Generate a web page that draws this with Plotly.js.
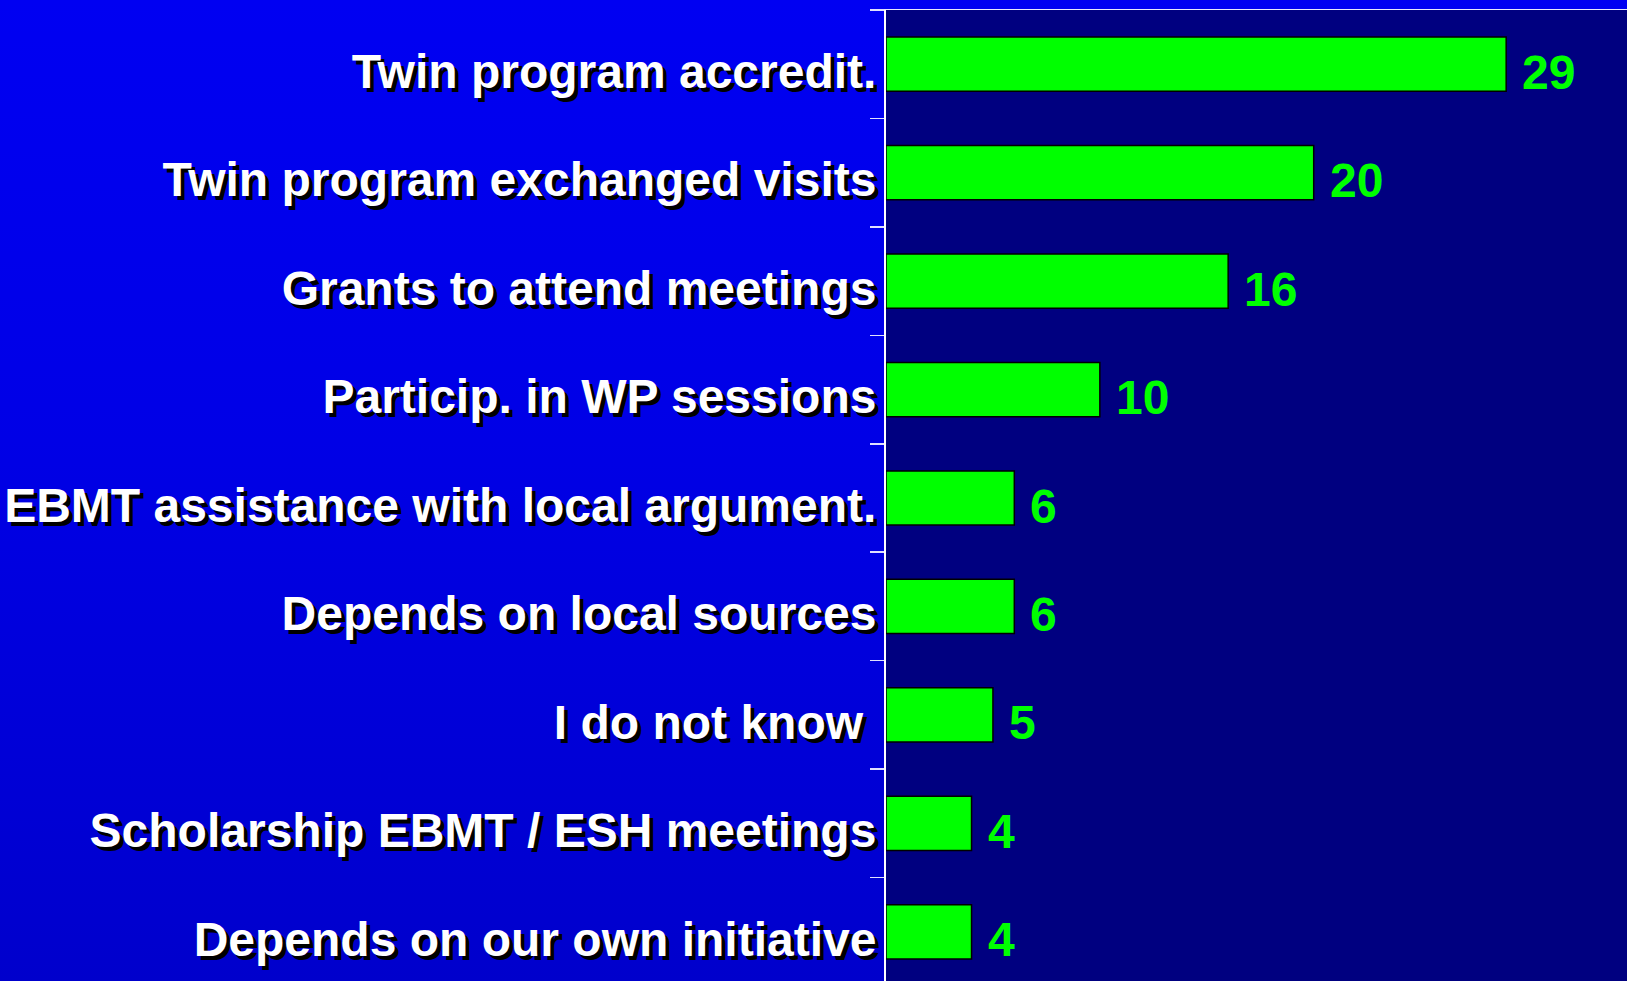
<!DOCTYPE html>
<html>
<head>
<meta charset="utf-8">
<script src="https://cdn.plot.ly/plotly-3.0.1.min.js"></script>
<style>
  html, body { margin: 0; padding: 0; overflow: hidden; width: 1627px; height: 981px;
    background: linear-gradient(to bottom, #0000F2 0%, #0000E6 45%, #0000CC 100%); }
  #chart { width: 1627px; height: 986px; }
</style>
</head>
<body>
<div id="chart"></div>
<script>
const categories = [
  "Twin program accredit.",
  "Twin program exchanged visits",
  "Grants to attend meetings",
  "Particip. in WP sessions",
  "EBMT assistance with local argument.",
  "Depends on local sources",
  "I do not know\u00A0",
  "Scholarship EBMT / ESH meetings",
  "Depends on our own initiative"
];
const values = [29, 20, 16, 10, 6, 6, 5, 4, 4];
const valueLabels = values.map(v => String(v));

const font = "Arial, 'Liberation Sans', sans-serif";

const trace = {
  type: "bar",
  orientation: "h",
  x: values,
  y: categories,
  marker: { color: "#00FF00", line: { color: "#000000", width: 1.5 } },
  hoverinfo: "none"
};

const annotations = values.map((v, i) => ({
  x: v, y: categories[i], xref: "x", yref: "y",
  text: valueLabels[i], showarrow: false,
  xanchor: "left", yanchor: "middle",
  xshift: 14, yshift: -8,
  font: { family: font, size: 48, color: "#00FF00", weight: "bold" }
}));

const layout = {
  width: 1627, height: 986,
  margin: { l: 886, r: 0, t: 10, b: 0, pad: 0 },
  paper_bgcolor: "rgba(0,0,0,0)",
  plot_bgcolor: "#000080",
  bargap: 0.5,
  showlegend: false,
  xaxis: {
    range: [0, 34.65], side: "top",
    showgrid: false, zeroline: false,
    showline: true, linecolor: "#E8E8FF", linewidth: 1.5,
    showticklabels: false, ticks: ""
  },
  yaxis: {
    type: "category",
    range: [8.5, -0.5],
    showgrid: false, zeroline: false,
    showline: true, linecolor: "#FFFFFF", linewidth: 2,
    ticks: "outside", tickson: "boundaries", ticklen: 14, tickwidth: 1.5, tickcolor: "#E0E0FF",
    ticklabelshift: -7,
    ticklabelstandoff: -2,
    tickfont: { family: font, size: 48, color: "#FFFFFF", weight: "bold", shadow: "4px 4px 0px #000000" }
  },
  annotations: annotations
};

Plotly.newPlot("chart", [trace], layout, { staticPlot: true, displayModeBar: false });
</script>
</body>
</html>
